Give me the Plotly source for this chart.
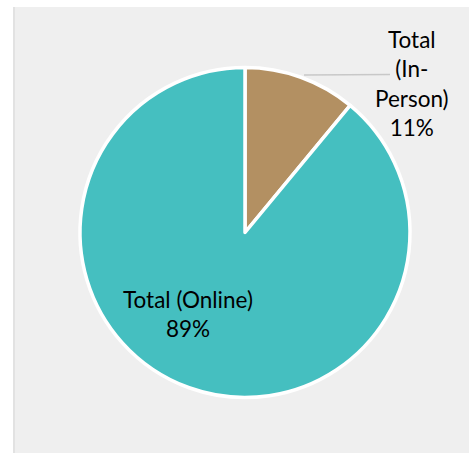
import plotly.graph_objects as go

# Share of total attendance by format
labels = ["Total (In-Person)", "Total (Online)"]
values = [11, 89]
colors = ["#B39062", "#45BFC0"]

W, H = 469, 453
total = sum(values)
pct = [f"{round(v / total * 100)}%" for v in values]

fig = go.Figure(
    go.Pie(
        labels=labels,
        values=values,
        sort=False,
        direction="clockwise",
        rotation=0,
        marker=dict(colors=colors, line=dict(color="white", width=3.5)),
        textinfo="none",
        hoverinfo="label+percent",
        showlegend=False,
        domain=dict(x=[80 / W, 410 / W], y=[(H - 398) / H, (H - 67) / H]),
    )
)

font = dict(family="Lato, 'Open Sans', sans-serif", size=22.5, color="#000000")

annotations = [
    # small slice: label placed outside, right of the pie
    dict(
        x=412 / W, y=(H - 84) / H, xref="paper", yref="paper",
        text="Total<br>(In-<br>Person)<br>" + pct[0],
        showarrow=False, xanchor="center", yanchor="middle",
        font=font, align="center",
    ),
    # large slice: label inside
    dict(
        x=188 / W, y=(H - 314) / H, xref="paper", yref="paper",
        text=labels[1] + "<br>" + pct[1], showarrow=False,
        xanchor="center", yanchor="middle",
        font=font, align="center",
    ),
]

fig.update_layout(
    width=W, height=H,
    margin=dict(l=0, r=0, t=0, b=0),
    paper_bgcolor="white",
    shapes=[
        dict(type="rect", xref="paper", yref="paper",
             x0=13 / W, x1=1, y0=0, y1=(H - 7) / H,
             fillcolor="#EFEFEF", line=dict(width=0), layer="below"),
        dict(type="line", xref="paper", yref="paper",
             x0=14 / W, x1=14 / W, y0=0, y1=(H - 7) / H,
             line=dict(color="#E2E2E2", width=2), layer="below"),
        # leader line from the small slice to its label
        dict(type="line", xref="paper", yref="paper",
             x0=304 / W, x1=390 / W, y0=(H - 75) / H, y1=(H - 74.5) / H,
             line=dict(color="#C8C8C8", width=1.5), layer="above"),
    ],
    annotations=annotations,
)

fig.write_html("out.html")
